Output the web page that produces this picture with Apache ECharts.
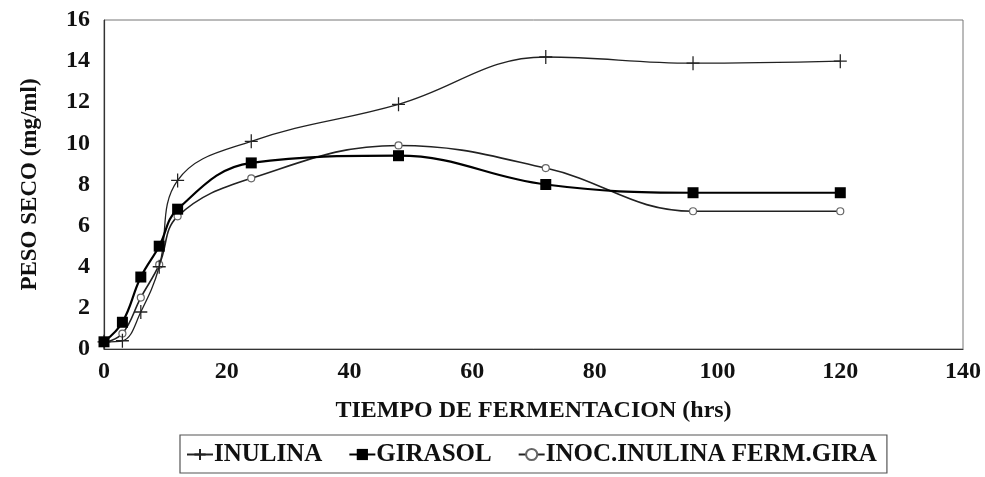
<!DOCTYPE html>
<html>
<head>
<meta charset="utf-8">
<style>
  html, body { margin: 0; padding: 0; background: #fff; }
  #chart { width: 985px; height: 477px; }
</style>
<script src="https://cdn.jsdelivr.net/npm/echarts@6/dist/echarts.min.js"></script>
</head>
<body>
<div id="chart"></div>
<script>
// Sampling times (hours)
const hours = [0, 3, 6, 9, 12, 24, 48, 72, 96, 120];

// Dry weight (mg/ml) per culture
const inulina = [0.35, 0.4, 1.8, 4.0, 8.2, 10.1, 11.9, 14.2, 13.9, 14.0];
const girasol = [0.35, 1.3, 3.5, 5.0, 6.8, 9.05, 9.4, 8.0, 7.6, 7.6];
const inocInulina = [0.3, 0.75, 2.5, 4.1, 6.45, 8.3, 9.9, 8.8, 6.7, 6.7];

const seriesNames = ['INULINA', 'GIRASOL', 'INOC.INULINA FERM.GIRA'];

const xTicks = { min: 0, max: 140, interval: 20 };
const yTicks = { min: 0, max: 16, interval: 2 };

const pairs = (vals) => hours.map((h, i) => [h, vals[i]]);

const serif = '"Liberation Serif", "Times New Roman", serif';
const plusPath = 'path://M0,6L12,6M6,0L6,12';

const chart = echarts.init(document.getElementById('chart'));
chart.setOption({
  animation: false,
  backgroundColor: '#fff',
  grid: {
    left: 104, right: 22, top: 20, bottom: 128,
    show: true, borderColor: '#777', borderWidth: 1
  },
  legend: {
    left: 180, top: 435,
    padding: [7, 10, 6, 6],
    itemGap: 26,
    itemWidth: 26, itemHeight: 14,
    borderColor: '#555', borderWidth: 1.2,
    textStyle: { fontFamily: serif, fontWeight: 'bold', fontSize: 25, color: '#111', padding: [0, 0, 0, -4] },
    data: seriesNames
  },
  xAxis: {
    type: 'value',
    min: xTicks.min, max: xTicks.max, interval: xTicks.interval,
    name: 'TIEMPO DE FERMENTACION (hrs)',
    nameLocation: 'middle', nameGap: 50,
    nameTextStyle: { fontFamily: serif, fontWeight: 'bold', fontSize: 24, color: '#111' },
    axisLine: { lineStyle: { color: '#333', width: 1.2 } },
    axisTick: { show: false },
    splitLine: { show: false },
    axisLabel: { fontFamily: serif, fontWeight: 'bold', fontSize: 24, color: '#111', margin: 11 }
  },
  yAxis: {
    type: 'value',
    min: yTicks.min, max: yTicks.max, interval: yTicks.interval,
    name: 'PESO SECO (mg/ml)',
    nameLocation: 'middle', nameGap: 62, nameRotate: 90,
    nameTextStyle: { fontFamily: serif, fontWeight: 'bold', fontSize: 23, color: '#111' },
    axisLine: { show: true, lineStyle: { color: '#333', width: 1.2 } },
    axisTick: { show: false },
    splitLine: { show: false },
    axisLabel: { fontFamily: serif, fontWeight: 'bold', fontSize: 24, color: '#111', margin: 14 }
  },
  series: [
    {
      name: seriesNames[0], type: 'line', smooth: 0.4,
      data: pairs(inulina),
      symbol: plusPath, symbolSize: [13, 14], showAllSymbol: true,
      lineStyle: { color: '#222', width: 1.3 },
      itemStyle: { color: 'transparent', borderColor: '#222', borderWidth: 1.3 },
      z: 3
    },
    {
      name: seriesNames[1], type: 'line', smooth: 0.4,
      data: pairs(girasol),
      symbol: 'rect', symbolSize: 11, showAllSymbol: true,
      lineStyle: { color: '#000', width: 2.2 },
      itemStyle: { color: '#000', borderColor: '#000', borderWidth: 0 },
      z: 4
    },
    {
      name: seriesNames[2], type: 'line', smooth: 0.4,
      data: pairs(inocInulina),
      symbol: 'circle', symbolSize: 7, showAllSymbol: true,
      lineStyle: { color: '#222', width: 1.6 },
      itemStyle: { color: '#fff', borderColor: '#666', borderWidth: 1.2 },
      z: 2
    }
  ]
});
</script>
</body>
</html>
